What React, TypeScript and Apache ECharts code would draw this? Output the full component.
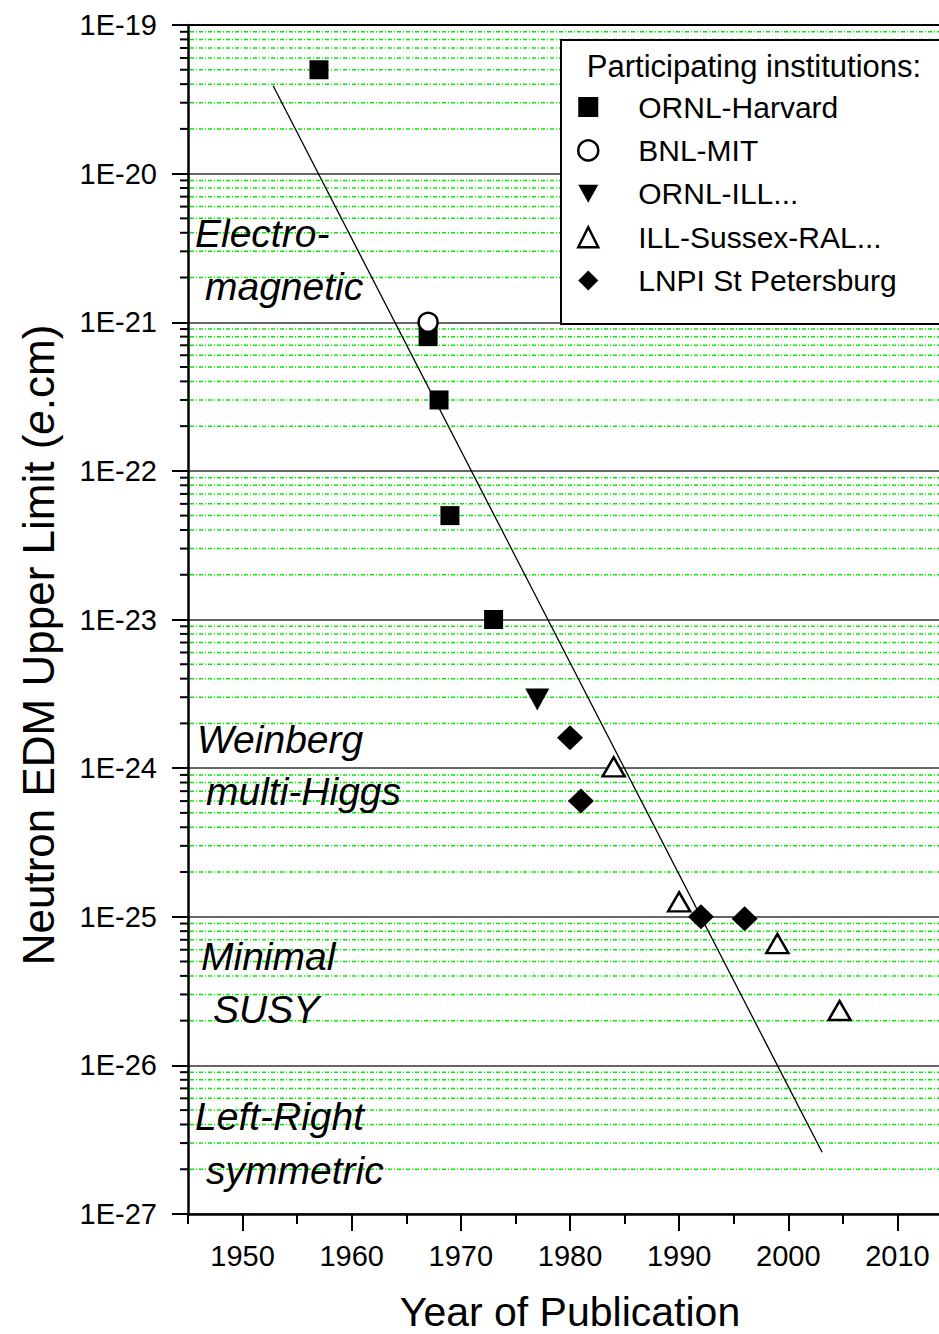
import React, { useEffect, useRef } from "react";
import * as echarts from "echarts";

const FONT = '"Liberation Sans", Arial, Helvetica, sans-serif';

// axis ticks
const yearTicks = [1950, 1960, 1970, 1980, 1990, 2000, 2010];
const yearMinorTicks = [1945, 1955, 1965, 1975, 1985, 1995, 2005, 2015];
const decadeExponents = [-27, -26, -25, -24, -23, -22, -21, -20];
const minorMultipliers = [2, 3, 4, 5, 6, 7, 8, 9];

// data: [year, EDM upper limit (e.cm)]
const ornlHarvard = [
  [1957, 5e-20],
  [1967, 8e-22],
  [1968, 3e-22],
  [1969, 5e-23],
  [1973, 1e-23],
];
const bnlMit = [[1967, 1e-21]];
const ornlIll = [[1977, 2.9e-24]];
const illSussex = [
  [1984, 1.02e-24],
  [1990, 1.26e-25],
  [1999, 6.6e-26],
  [2004.7, 2.34e-26],
];
const lnpi = [
  [1980, 1.6e-24],
  [1981, 6e-25],
  [1992, 1e-25],
  [1996, 9.7e-26],
];
const fitLine = [
  [1952.8, 3.9e-20],
  [2003.1, 2.6e-27],
];

const seriesNames = [
  "ORNL-Harvard",
  "BNL-MIT",
  "ORNL-ILL...",
  "ILL-Sussex-RAL...",
  "LNPI St Petersburg",
];

const annotations = [
  { text: "Electro-", x: 195, y: 233 },
  { text: "magnetic", x: 205, y: 286 },
  { text: "Weinberg", x: 197, y: 739 },
  { text: "multi-Higgs", x: 206, y: 791 },
  { text: "Minimal", x: 201, y: 956 },
  { text: "SUSY", x: 213, y: 1009 },
  { text: "Left-Right", x: 195, y: 1116 },
  { text: "symmetric", x: 206, y: 1170 },
];

const toLog = (arr: number[][]) => arr.map((d) => [d[0], Math.log10(d[1])]);

const DOWN_TRIANGLE = "path://M0,0L20,0L10,18Z";

export default function App() {
  const ref = useRef<HTMLDivElement>(null);

  useEffect(() => {
    if (!ref.current) return;
    const chart = echarts.init(ref.current, undefined, { renderer: "svg" });

    const minorLogs: number[][] = [];
    decadeExponents.forEach((e) =>
      minorMultipliers.forEach((k) => minorLogs.push([1945, e + Math.log10(k)]))
    );

    const blackMarker = { color: "#000", opacity: 1 };
    const hollowMarker = { color: "#fff", borderColor: "#000", borderWidth: 2.5, opacity: 1 };

    const option: any = {
      animation: false,
      backgroundColor: "#fff",
      grid: { left: 188, top: 25, width: 764, height: 1189, outerBoundsMode: "none", containLabel: false },
      xAxis: [
        {
          type: "value",
          min: 1945,
          max: 2015,
          position: "bottom",
          axisLine: { lineStyle: { color: "#000", width: 2.5 } },
          axisTick: {
            customValues: yearTicks,
            length: 17,
            lineStyle: { color: "#000", width: 2 },
          },
          axisLabel: {
            customValues: yearTicks,
            fontSize: 29,
            fontFamily: FONT,
            color: "#000",
            margin: 27,
            formatter: (v: number) => String(Math.round(v)),
          },
          splitLine: { show: false },
          name: "Year of Publication",
          nameLocation: "middle",
          nameGap: 78,
          nameTextStyle: { fontSize: 41, lineHeight: 40, fontFamily: FONT, color: "#000" },
        },
        {
          type: "value",
          min: 1945,
          max: 2015,
          position: "bottom",
          axisLine: { show: false },
          axisTick: {
            customValues: yearMinorTicks,
            length: 10,
            lineStyle: { color: "#000", width: 2 },
          },
          axisLabel: { show: false },
          splitLine: { show: false },
        },
        {
          type: "value",
          min: 1945,
          max: 2015,
          position: "top",
          axisLine: { lineStyle: { color: "#000", width: 2 } },
          axisTick: { show: false },
          axisLabel: { show: false },
          splitLine: { show: false },
        },
      ],
      yAxis: {
        type: "value",
        min: -27,
        max: -19,
        interval: 1,
        axisLine: { lineStyle: { color: "#000", width: 2.5 } },
        axisTick: { length: 16, lineStyle: { color: "#000", width: 2 } },
        axisLabel: {
          fontSize: 29,
          fontFamily: FONT,
          color: "#000",
          margin: 31,
          formatter: (v: number) => "1E" + Math.round(v),
        },
        splitLine: { show: true, lineStyle: { color: "#333", width: 1.5 } },
      },
      legend: {
        orient: "vertical",
        left: 577,
        top: 92,
        padding: 0,
        itemGap: 13.4,
        itemWidth: 20,
        itemHeight: 20,
        z: 20,
        itemStyle: { borderWidth: 2.5 },
        textStyle: {
          fontSize: 30,
          fontFamily: FONT,
          color: "#000",
          lineHeight: 30,
          padding: [0, 0, 0, 35],
        },
        data: [
          { name: seriesNames[0], icon: "rect" },
          { name: seriesNames[1], icon: "circle" },
          { name: seriesNames[2], icon: DOWN_TRIANGLE },
          { name: seriesNames[3], icon: "triangle" },
          { name: seriesNames[4], icon: "diamond" },
        ],
      },
      graphic: [
        {
          type: "rect",
          z: 10,
          shape: { x: 561, y: 40, width: 420, height: 284 },
          style: { fill: "#fff", stroke: "#000", lineWidth: 2 },
        },
        {
          type: "text",
          z: 11,
          x: 754,
          y: 66,
          style: {
            text: "Participating institutions:",
            fontSize: 31,
            fontFamily: FONT,
            fill: "#000",
            align: "center",
            verticalAlign: "middle",
          },
        },
        {
          type: "text",
          x: 38,
          y: 645,
          rotation: Math.PI / 2,
          style: {
            text: "{n|Neutron EDM Upper Limit (}{i|e}{n|.cm)}",
            align: "center",
            verticalAlign: "middle",
            fill: "#000",
            rich: {
              n: { fontSize: 44, fontFamily: FONT, fill: "#000" },
              i: { fontSize: 44, fontFamily: FONT, fontStyle: "italic", fill: "#000" },
            },
          },
        },
        ...annotations.map((a) => ({
          type: "text",
          x: a.x,
          y: a.y,
          z: 5,
          style: {
            text: a.text,
            fontSize: 39,
            fontFamily: FONT,
            fontStyle: "italic",
            fill: "#000",
            align: "left",
            verticalAlign: "middle",
          },
        })),
      ],
      series: [
        {
          type: "custom",
          name: "minor-grid",
          silent: true,
          z: 1,
          data: minorLogs,
          renderItem: (params: any, api: any) => {
            const cs = params.coordSys;
            const p = api.coord([api.value(0), api.value(1)]);
            return {
              type: "group",
              children: [
                {
                  type: "line",
                  shape: { x1: cs.x + 2, y1: p[1], x2: cs.x + cs.width, y2: p[1] },
                  style: { stroke: "#00f000", lineWidth: 1.5, lineDash: [4, 2, 1, 2] },
                },
                {
                  type: "line",
                  shape: { x1: cs.x - 8, y1: p[1], x2: cs.x, y2: p[1] },
                  style: { stroke: "#000", lineWidth: 2 },
                },
              ],
            };
          },
        },
        {
          type: "line",
          name: "fit",
          data: toLog(fitLine),
          showSymbol: false,
          symbol: "none",
          z: 2,
          lineStyle: { color: "#000", width: 1.3 },
          silent: true,
        },
        {
          type: "scatter",
          name: seriesNames[0],
          data: toLog(ornlHarvard),
          symbol: "rect",
          symbolSize: 19,
          itemStyle: blackMarker,
          z: 3,
        },
        {
          type: "scatter",
          name: seriesNames[1],
          data: toLog(bnlMit),
          symbol: "circle",
          symbolSize: 19,
          itemStyle: hollowMarker,
          z: 4,
        },
        {
          type: "scatter",
          name: seriesNames[2],
          data: toLog(ornlIll),
          symbol: "triangle",
          symbolRotate: 180,
          symbolSize: [24, 22],
          itemStyle: blackMarker,
          z: 3,
        },
        {
          type: "scatter",
          name: seriesNames[3],
          data: toLog(illSussex),
          symbol: "triangle",
          symbolSize: [22, 19],
          itemStyle: hollowMarker,
          z: 3,
        },
        {
          type: "scatter",
          name: seriesNames[4],
          data: toLog(lnpi),
          symbol: "diamond",
          symbolSize: [26, 25],
          itemStyle: blackMarker,
          z: 3,
        },
      ],
    };

    chart.setOption(option);
    return () => chart.dispose();
  }, []);

  return (
    <div
      ref={ref}
      style={{ position: "fixed", left: 0, top: 0, width: 939, height: 1334, background: "#fff" }}
    />
  );
}
